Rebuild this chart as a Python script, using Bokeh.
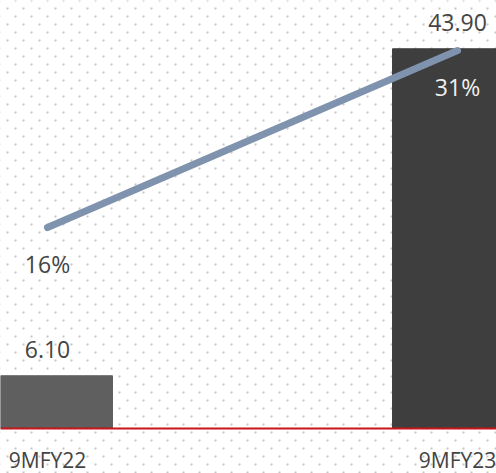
import numpy as np
from bokeh.plotting import figure
from bokeh.models import Range1d, Span
from bokeh.core.properties import value
from bokeh.embed import file_html
from bokeh.resources import INLINE

categories = ["9MFY22", "9MFY23"]
amounts = [6.10, 43.90]
amount_labels = ["6.10", "43.90"]
margins = [16, 31]
margin_labels = ["16%", "31%"]

W, H = 496, 473
X0, X1 = -0.1146, 1.0951
Y0, Y1 = -5.20, 49.48
xpos = [0, 1]
bar_colors = ["#5f5f5f", "#3e3e3e"]
pct_colors = ["#444444", "#f0f0f0"]
FONT = value("Open Sans")

p = figure(width=W, height=H, output_backend="svg", toolbar_location=None,
           x_range=Range1d(X0, X1), y_range=Range1d(Y0, Y1),
           x_axis_location=None, y_axis_location=None, min_border=0)
p.grid.visible = False
p.outline_line_color = None
p.background_fill_color = "white"
p.border_fill_color = "white"
p.extra_y_ranges = {"pct": Range1d(-4.85, 35.24)}

# decorative staggered dot texture in the background (pixel lattice)
dx, dy = [], []
for j in range(0, H // 8 + 2):
    py = 8 * j
    off = 15.0 if j % 2 == 0 else 7.0
    for i in range(-1, W // 16 + 2):
        px = off + 16 * i
        dx.append(X0 + px * (X1 - X0) / W)
        dy.append(Y1 - py * (Y1 - Y0) / H)
p.scatter(dx, dy, marker="square", size=2, fill_color="#c6c6c6",
          line_color=None, level="underlay")

p.vbar(x=xpos, top=amounts, width=0.317, color=bar_colors)
p.add_layout(Span(location=0, dimension="width", line_color="#c8151b", line_width=2))

p.line(xpos, margins, y_range_name="pct", line_width=7, line_color="#7f93ae",
       line_cap="round")

p.text(x=xpos, y=amounts, text=amount_labels, text_align="center",
       text_baseline="alphabetic", y_offset=-26, text_font=FONT,
       text_font_size="23px", text_color="#444444")
p.text(x=xpos, y=margins, y_range_name="pct", text=margin_labels,
       text_align="center", text_baseline="alphabetic", y_offset=36,
       text_font=FONT, text_font_size="23px", text_color=pct_colors)
p.text(x=xpos, y=[0, 0], text=categories, text_align="center",
       text_baseline="alphabetic", y_offset=31, text_font=FONT,
       text_font_size="21px", text_color="#444444")

open("out.html", "w").write(file_html(p, INLINE))
